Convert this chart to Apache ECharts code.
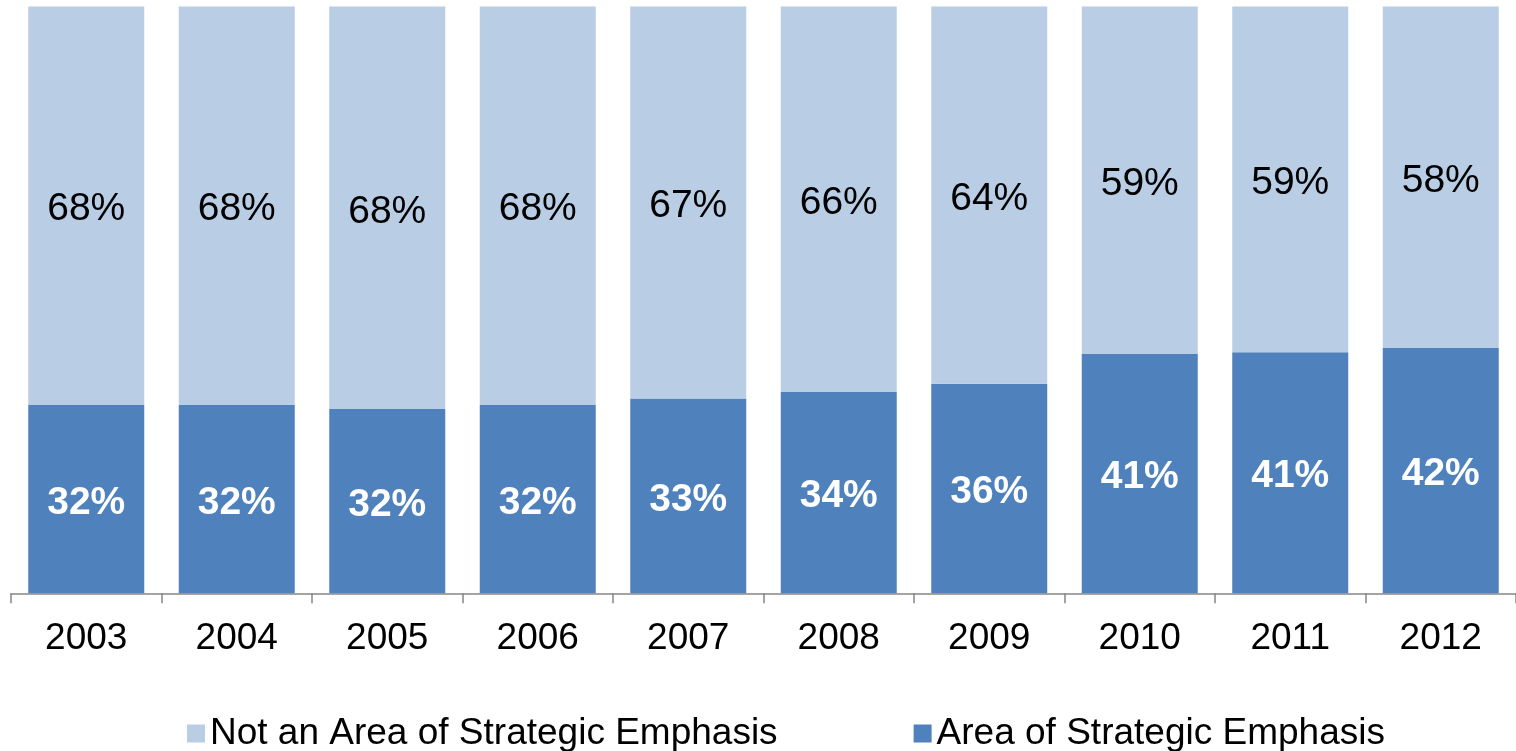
<!DOCTYPE html>
<html lang="en">
  <head>
    <meta charset="UTF-8" />
    <title>Area of Strategic Emphasis 2003-2012</title>
    <script src="https://cdn.jsdelivr.net/npm/echarts@6/dist/echarts.min.js"></script>
    <style>
      * {
        margin: 0;
        padding: 0;
      }
      body {
        background: #fff;
      }
    </style>
  </head>
  <body>
    <div id="main" style="height: 751px; width: 1516px"></div>
    <script>
      // data (bar heights), labels as printed
      var years = ['2003', '2004', '2005', '2006', '2007', '2008', '2009', '2010', '2011', '2012'];
      var emphasis = [32.1, 32.1, 31.4, 32.1, 33.2, 34.3, 35.7, 40.8, 41.1, 41.8];
      var notEmphasis = [67.9, 67.9, 68.6, 67.9, 66.8, 65.7, 64.3, 59.2, 58.9, 58.2];
      var emphasisLabels = ['32%', '32%', '32%', '32%', '33%', '34%', '36%', '41%', '41%', '42%'];
      var notEmphasisLabels = ['68%', '68%', '68%', '68%', '67%', '66%', '64%', '59%', '59%', '58%'];

      var font = '"Liberation Sans", Arial, sans-serif';
      var myChart = echarts.init(document.getElementById('main'));

      myChart.setOption({
        animation: false,
        textStyle: { fontFamily: font },
        grid: {
          left: 11,
          top: 6.5,
          width: 1510,
          bottom: 157.7
        },
        legend: {
          data: ['Not an Area of Strategic Emphasis', 'Area of Strategic Emphasis'],
          left: 182,
          top: 710,
          itemWidth: 18,
          itemHeight: 18,
          itemGap: 136,
          icon: 'rect',
          textStyle: {
            fontFamily: font,
            fontSize: 37,
            color: '#000'
          }
        },
        xAxis: {
          type: 'category',
          data: years,
          axisLine: { lineStyle: { color: '#868686', width: 1.5 } },
          axisTick: { show: true, length: 10, lineStyle: { color: '#868686', width: 1.5 } },
          axisLabel: {
            margin: 27,
            fontSize: 37,
            color: '#000',
            fontFamily: font
          }
        },
        yAxis: {
          type: 'value',
          min: 0,
          max: 100,
          show: false,
          splitLine: { show: false }
        },
        series: [
          {
            name: 'Area of Strategic Emphasis',
            type: 'bar',
            stack: 'total',
            barWidth: 116,
            data: emphasis,
            itemStyle: { color: '#4F81BD' },
            label: {
              show: true,
              position: 'inside',
              offset: [0, 4],
              fontSize: 39,
              fontWeight: 'bold',
              color: '#fff',
              fontFamily: font,
              formatter: function (p) {
                return emphasisLabels[p.dataIndex];
              }
            }
          },
          {
            name: 'Not an Area of Strategic Emphasis',
            type: 'bar',
            stack: 'total',
            barWidth: 116,
            data: notEmphasis,
            itemStyle: { color: '#B9CDE5' },
            label: {
              show: true,
              position: 'inside',
              offset: [0, 4],
              fontSize: 39,
              color: '#000',
              fontFamily: font,
              formatter: function (p) {
                return notEmphasisLabels[p.dataIndex];
              }
            }
          }
        ]
      });
    </script>
  </body>
</html>
